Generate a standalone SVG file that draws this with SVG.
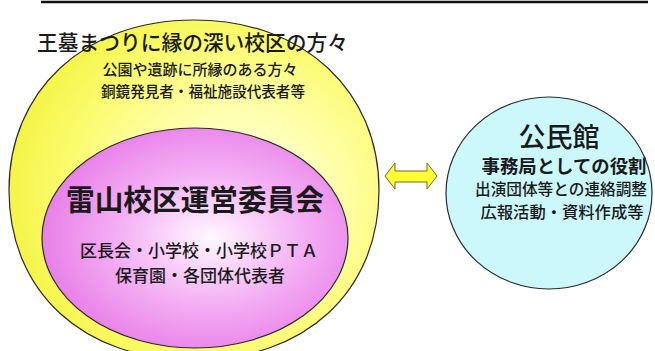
<svg xmlns="http://www.w3.org/2000/svg" width="655" height="351" viewBox="0 0 655 351">
<defs>
<radialGradient id="gy" cx="0.62" cy="0.52" r="0.62">
<stop offset="0" stop-color="#FFFFF0"/>
<stop offset="0.4" stop-color="#FFFFB0"/>
<stop offset="0.75" stop-color="#FBFB70"/>
<stop offset="1" stop-color="#F4F448"/>
</radialGradient>
<radialGradient id="gp" cx="0.55" cy="0.5" r="0.6">
<stop offset="0" stop-color="#FFF8FF"/>
<stop offset="0.5" stop-color="#F4B0F4"/>
<stop offset="1" stop-color="#E676E6"/>
</radialGradient>
<style>
.t{font-family:"Noto Sans CJK JP","Noto Sans CJK SC",sans-serif;fill:#1a1a1a;font-weight:500}
.c{text-anchor:middle}
.ol{stroke:#2a2a2a;stroke-width:1.2}
</style>
</defs>
<rect width="655" height="351" fill="#fff"/>
<line x1="41" y1="2" x2="648" y2="2" stroke="#111" stroke-width="2.5"/>
<g id="outer">
<path class="ol" d="M194,20 C305,20 379,92 379,190 C379,292 305,360 194,360 C83,360 9,292 9,190 C9,92 83,20 194,20 Z" fill="url(#gy)"/>
<text class="t" x="37" y="50" font-size="21" textLength="311" lengthAdjust="spacingAndGlyphs">王墓まつりに縁の深い校区の方々</text>
<text class="t c" x="200" y="75" font-size="15">公園や遺跡に所縁のある方々</text>
<text class="t c" x="203" y="97" font-size="15" textLength="204" lengthAdjust="spacingAndGlyphs">銅鏡発見者・福祉施設代表者等</text>
</g>
<g id="inner">
<ellipse class="ol" cx="195" cy="238" rx="153" ry="110" fill="url(#gp)"/>
<text class="t c" x="195" y="211" font-size="29" font-weight="bold" textLength="258" lengthAdjust="spacingAndGlyphs" style="font-weight:700">雷山校区運営委員会</text>
<text class="t c" x="199" y="257" font-size="17" textLength="238" lengthAdjust="spacingAndGlyphs">区長会・小学校・小学校ＰＴＡ</text>
<text class="t c" x="200" y="282" font-size="17" textLength="170" lengthAdjust="spacingAndGlyphs">保育園・各団体代表者</text>
</g>
<g id="kominkan">
<ellipse class="ol" cx="549" cy="193" rx="103" ry="96" fill="#CCF8FC"/>
<text class="t c" x="559" y="147" font-size="27">公民館</text>
<text class="t c" x="564" y="173" font-size="18" textLength="165" lengthAdjust="spacingAndGlyphs" style="font-weight:700">事務局としての役割</text>
<text class="t c" x="561" y="195" font-size="15.6" textLength="172" lengthAdjust="spacingAndGlyphs">出演団体等との連絡調整</text>
<text class="t c" x="562" y="218" font-size="16.3" textLength="163" lengthAdjust="spacingAndGlyphs">広報活動・資料作成等</text>
</g>
<g id="connectors">
<path d="M385,176 L395,163 L395,171 L427,171 L427,163 L437,176 L427,189 L427,182 L395,182 L395,189 Z" fill="#FFFF33" stroke="#6a6a30" stroke-width="1"/>
</g>
</svg>
